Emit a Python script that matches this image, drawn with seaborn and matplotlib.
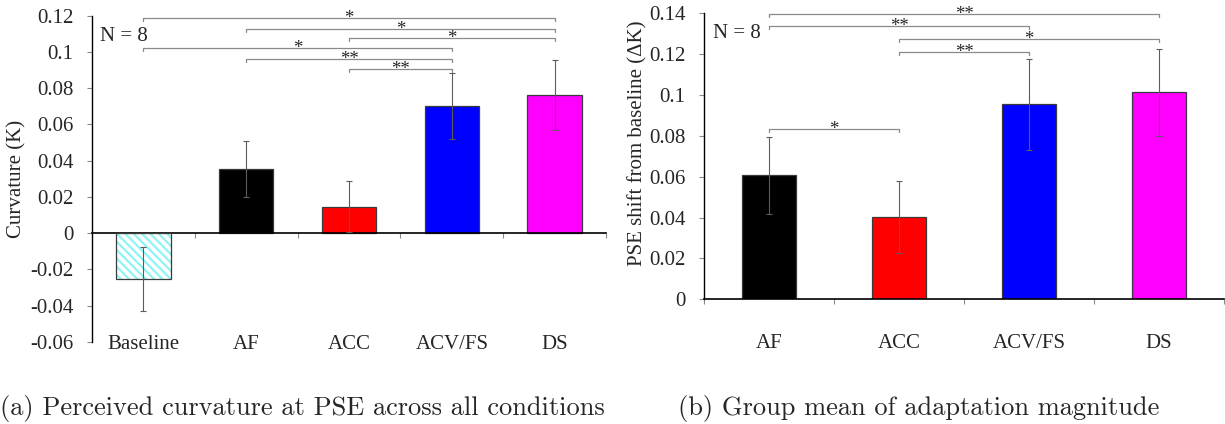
import numpy as np
import pandas as pd
import matplotlib
matplotlib.use("Agg")
import matplotlib.pyplot as plt
import seaborn as sns
from matplotlib.patches import Rectangle

# ---------------- data ----------------
cats_a = ["Baseline", "AF", "ACC", "ACV/FS", "DS"]
curv_mean = [-0.0254, 0.0353, 0.0147, 0.0700, 0.0762]
curv_err = [0.0177, 0.0155, 0.0140, 0.0182, 0.0193]
yticks_a = [-0.06, -0.04, -0.02, 0.0, 0.02, 0.04, 0.06, 0.08, 0.10, 0.12]
yticklabels_a = ["-0.06", "-0.04", "-0.02", "0", "0.02", "0.04", "0.06", "0.08", "0.1", "0.12"]
sig_pairs_a = [(0, 4), (1, 4), (2, 4), (0, 3), (1, 3), (2, 3)]
sig_levels_a = [0.119, 0.1125, 0.1075, 0.102, 0.0962, 0.0907]
sig_marks_a = ["*", "*", "*", "*", "**", "**"]

cats_b = ["AF", "ACC", "ACV/FS", "DS"]
shift_mean = [0.0608, 0.0401, 0.0954, 0.1013]
shift_err = [0.0188, 0.0176, 0.0222, 0.0214]
yticks_b = [0.0, 0.02, 0.04, 0.06, 0.08, 0.10, 0.12, 0.14]
yticklabels_b = ["0", "0.02", "0.04", "0.06", "0.08", "0.1", "0.12", "0.14"]
sig_pairs_b = [(0, 3), (0, 2), (1, 3), (1, 2), (0, 1)]
sig_levels_b = [0.1398, 0.1336, 0.1274, 0.1209, 0.0834]
sig_marks_b = ["**", "**", "*", "**", "*"]

n_label = "N = 8"
ylabel_a = "Curvature (K)"
ylabel_b = "PSE shift from baseline (\u0394K)"
caption_a = "(a) Perceived curvature at PSE across all conditions"
caption_b = "(b) Group mean of adaptation magnitude"

colors_a = ["white", "#000000", "#ff0000", "#0000ff", "#ff00ff"]
colors_b = ["#000000", "#ff0000", "#0000ff", "#ff00ff"]

# ---------------- style ----------------
sns.set_style("white")
plt.rcParams["font.family"] = ["Liberation Serif", "DejaVu Serif"]
plt.rcParams["hatch.linewidth"] = 1.6

W, H = 1225, 424
fig = plt.figure(figsize=(W / 100, H / 100), dpi=100)

ax_a = fig.add_axes([92 / W, 1 - 342 / H, (606 - 92) / W, (342 - 15.7) / H])
ax_b = fig.add_axes([704 / W, 1 - 299.3 / H, (1224 - 704) / W, (299.3 - 13.3) / H])

EDGE = "#3a3a3a"
GRAY = "#8a8a8a"


def draw_panel(ax, cats, means, errs, colors, width, yticks, yticklabels,
               ylabel, pairs, levels, marks, label_pad, ylab_x, ylab_y, n_xy):
    df = pd.DataFrame({"cond": cats, "val": means})
    sns.barplot(data=df, x="cond", y="val", hue="cond", order=cats,
                hue_order=cats, palette=colors, width=width, saturation=1,
                edgecolor=EDGE, linewidth=0.9, legend=False, ax=ax)
    ax.errorbar(np.arange(len(cats)), means, yerr=errs, fmt="none",
                ecolor="#5c5c5c", elinewidth=0.8, capsize=2, capthick=0.8,
                zorder=4)
    ax.set_xlim(-0.5, len(cats) - 0.5)
    ax.set_ylim(yticks[0], yticks[-1])
    ax.set_yticks(yticks)
    ax.set_yticklabels(yticklabels)
    ax.set_xlabel("")
    ax.set_ylabel(ylabel, fontsize=15)
    ax.yaxis.set_label_coords(ylab_x, ylab_y)

    for s in ["top", "right"]:
        ax.spines[s].set_visible(False)
    ax.spines["left"].set_color("black")
    ax.spines["left"].set_linewidth(1.0)
    ax.spines["bottom"].set_position(("data", 0))
    ax.spines["bottom"].set_color("black")
    ax.spines["bottom"].set_linewidth(1.2)

    ax.set_xticks(np.arange(len(cats)))
    ax.set_xticklabels(cats)
    ax.set_xticks(np.arange(-0.5, len(cats)), minor=True)
    ax.tick_params(axis="x", which="major", length=0, pad=label_pad,
                   labelsize=15)
    ax.tick_params(axis="x", which="minor", length=3.5, width=0.8,
                   direction="out", color=GRAY, bottom=True)
    ax.tick_params(axis="y", length=3.8, width=0.8, direction="out",
                   color=GRAY, pad=9.5, labelsize=15, left=True)

    # bracket tick length: 3 px in data units
    ylo, yhi = ax.get_ylim()
    ax_h_px = ax.get_position().height * H
    d = 3.0 * (yhi - ylo) / ax_h_px
    for (i, j), y, m in zip(pairs, levels, marks):
        ax.plot([i, i, j, j], [y - d, y, y, y - d], color=GRAY, lw=0.9,
                clip_on=False, zorder=5)
        ax.annotate(m, xy=((i + j) / 2, y), xytext=(0, -5),
                    textcoords="offset pixels", ha="center", va="baseline",
                    fontsize=13.5, annotation_clip=False)

    ax.text(n_xy[0], n_xy[1], n_label, fontsize=15, ha="left", va="center")
    return ax


draw_panel(ax_a, cats_a, curv_mean, curv_err, colors_a, 0.53, yticks_a,
           yticklabels_a, ylabel_a, sig_pairs_a, sig_levels_a, sig_marks_a,
           label_pad=73, ylab_x=-0.128, ylab_y=0.5, n_xy=(-0.42, 0.1084))
draw_panel(ax_b, cats_b, shift_mean, shift_err, colors_b, 0.41, yticks_b,
           yticklabels_b, ylabel_b, sig_pairs_b, sig_levels_b, sig_marks_b,
           label_pad=25, ylab_x=-0.108, ylab_y=0.5465, n_xy=(-0.433, 0.1303))

# hatched baseline bar
for p in list(ax_a.patches):
    cx = p.get_x() + p.get_width() / 2
    if abs(cx - 0) < 1e-6:
        p.set_facecolor("white")
        p.set_edgecolor("#8ff4f4")
        p.set_hatch("\\\\\\\\")
        p.set_linewidth(0)
        ax_a.add_patch(Rectangle((p.get_x(), p.get_y()), p.get_width(),
                                 p.get_height(), fill=False,
                                 edgecolor=EDGE, linewidth=0.9, zorder=3))

fig.text(0.0, 1 - 415 / H, caption_a, family="cmr10", fontsize=19,
         ha="left", va="baseline")
fig.text(678 / W, 1 - 415 / H, caption_b, family="cmr10", fontsize=19,
         ha="left", va="baseline")

fig.savefig("out.png", dpi=100)
